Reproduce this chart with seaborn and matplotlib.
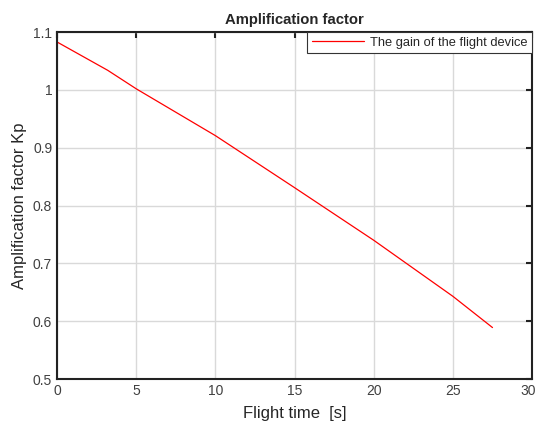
import matplotlib.pyplot as plt
import matplotlib.transforms as mtransforms
import pandas as pd
import seaborn as sns

# values
flight_time = [0, 3.2, 5, 10, 15, 20, 25, 27.5]
gain_kp = [1.083, 1.034, 1.002, 0.921, 0.831, 0.740, 0.643, 0.589]

x_ticks = [0, 5, 10, 15, 20, 25, 30]
y_ticks = [0.5, 0.6, 0.7, 0.8, 0.9, 1.0, 1.1]
y_tick_labels = ['0.5', '0.6', '0.7', '0.8', '0.9', '1', '1.1']

sns.set_style('white')
plt.rcParams['font.family'] = ['Liberation Sans', 'DejaVu Sans']

df = pd.DataFrame({'t': flight_time, 'kp': gain_kp})

fig = plt.figure(figsize=(5.38, 4.23), dpi=100)
ax = fig.add_axes([0.106, 0.104, 0.883, 0.820])
sns.lineplot(data=df, x='t', y='kp', ax=ax, color='red', linewidth=0.9,
             label='The gain of the flight device')

ax.set_xlim(0, 30)
ax.set_ylim(0.5, 1.1)
ax.set_xticks(x_ticks)
ax.set_yticks(y_ticks)
ax.set_yticklabels(y_tick_labels)
ax.grid(True, color='#d9d9d9', linewidth=1.0)
ax.tick_params(direction='in', length=4, width=1.5, top=True, right=True,
               labelsize=10, labelcolor='#404040', color='#222222')
for spine in ax.spines.values():
    spine.set_linewidth(1.5)
    spine.set_color('#222222')

# keep the last x label inside the figure
last = ax.get_xticklabels()[-1]
last.set_transform(last.get_transform() +
                   mtransforms.ScaledTranslation(-4 / 100, 0, fig.dpi_scale_trans))

ax.set_xlabel('Flight time  [s]', fontsize=12, color='#262626', labelpad=6)
ax.set_ylabel('Amplification factor Kp', fontsize=12, color='#262626')
ax.set_title('Amplification factor', fontsize=10.7, fontweight='bold', pad=6)

leg = ax.legend(loc='upper right', fontsize=9.3, fancybox=False, framealpha=1,
                edgecolor='#333333', borderaxespad=0, handlelength=4.0,
                handletextpad=0.5, borderpad=0.35)
leg.get_frame().set_linewidth(0.8)

fig.savefig('out.png', dpi=100)
